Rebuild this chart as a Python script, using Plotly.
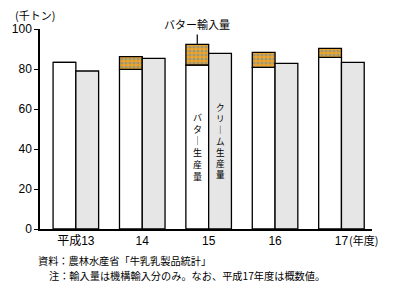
import plotly.graph_objects as go

years = ["平成13", "14", "15", "16", "17"]
butter_prod = [83.3, 79.8, 82.0, 80.8, 85.8]
butter_import = [0.0, 6.4, 10.3, 7.5, 4.5]
cream_prod = [79.0, 85.3, 87.8, 82.8, 83.3]

xpos = list(range(len(years)))
W = 0.343
FONT = "Liberation Sans, Arial, Noto Sans CJK JP, sans-serif"
JFONT = "Noto Sans CJK JP, sans-serif"

fig = go.Figure()
fig.add_bar(x=xpos, y=butter_prod, width=W, offset=-W,
            marker=dict(color="white", line=dict(color="black", width=1.3)),
            name="バター生産量")
fig.add_bar(x=xpos, y=butter_import, base=butter_prod, width=W, offset=-W,
            marker=dict(color="#f5a000", line=dict(color="black", width=1.3),
                        pattern=dict(shape=".", fgcolor="#3d8be0", bgcolor="#f7a41c",
                                     size=4, solidity=0.5)),
            name="バター輸入量")
fig.add_bar(x=xpos, y=cream_prod, width=W, offset=0,
            marker=dict(color="#e6e6e6", line=dict(color="black", width=1.3)),
            name="クリーム生産量")

def vtext(s):
    return "<br>".join("｜" if ch == "ー" else ch for ch in s)

ann = []
ann.append(dict(x=2 - W / 2, y=40.8, xref="x", yref="y", text=vtext("バター生産量"),
                showarrow=False, yanchor="middle",
                font=dict(family=JFONT, size=9, color="black")))
ann.append(dict(x=2 + W / 2, y=44.3, xref="x", yref="y", text=vtext("クリーム生産量"),
                showarrow=False, yanchor="middle",
                font=dict(family=JFONT, size=8.6, color="black")))

ann.append(dict(x=2 - W / 2, y=(229 - 24) / 200, xref="x", yref="paper", text="バター輸入量",
                yanchor="middle", showarrow=False,
                font=dict(family=JFONT, size=11, color="black")))
ann.append(dict(x=(10 - 37) / 335, y=(229 - 15) / 200, xref="paper", yref="paper",
                text="(千トン)", xanchor="left", yanchor="middle", showarrow=False,
                font=dict(family=JFONT, size=11, color="black")))
ann.append(dict(x=(347 - 37) / 335, y=-0.055, xref="paper", yref="paper", text="(年度)",
                xanchor="left", yanchor="middle", showarrow=False,
                font=dict(family=JFONT, size=11, color="black")))
ann.append(dict(x=(33 - 37) / 335, y=(229 - 260.5) / 200, xref="paper", yref="paper",
                text="資料：農林水産省「牛乳乳製品統計」", xanchor="left", yanchor="middle",
                showarrow=False, font=dict(family=JFONT, size=10.2, color="black")))
ann.append(dict(x=(44 - 37) / 335, y=(229 - 275.5) / 200, xref="paper", yref="paper",
                text="注：輸入量は機構輸入分のみ。なお、平成17年度は概数値。", xanchor="left",
                yanchor="middle", showarrow=False,
                font=dict(family=JFONT, size=10.2, color="black")))

fig.update_layout(
    width=400, height=291,
    margin=dict(l=37, r=28, t=29, b=62),
    paper_bgcolor="white", plot_bgcolor="white",
    showlegend=False, barmode="overlay",
    annotations=ann,
    shapes=[dict(type="line", xref="x", yref="y", x0=2 - W / 2, x1=2 - W / 2,
                 y0=butter_prod[2] + butter_import[2], y1=97.2,
                 line=dict(color="black", width=1.2))],
    xaxis=dict(range=[-0.54, 4.46], tickvals=xpos, ticktext=years,
               showline=True, linecolor="black", linewidth=1.5,
               ticks="", showgrid=False, zeroline=False,
               tickfont=dict(family=FONT, size=12, color="black")),
    yaxis=dict(range=[0, 100], tickvals=[0, 20, 40, 60, 80, 100],
               showline=True, linecolor="black", linewidth=1.5,
               ticks="outside", ticklen=4, tickcolor="black", tickwidth=1.2,
               showgrid=False, zeroline=False,
               tickfont=dict(family=FONT, size=12, color="black")),
)

fig.write_html("out.html")
